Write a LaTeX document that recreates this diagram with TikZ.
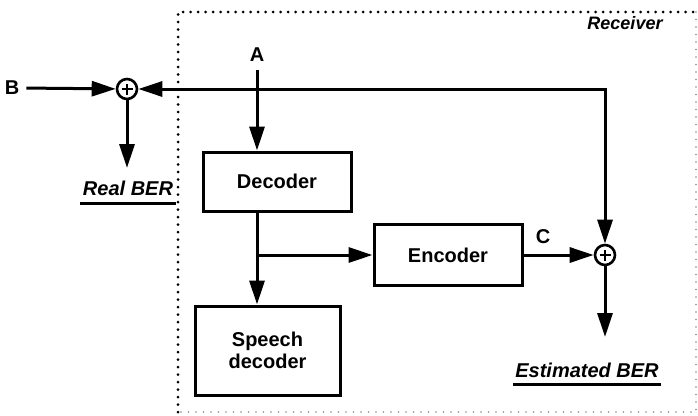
\documentclass[tikz,border=0pt]{standalone}
\usepackage{fontspec}
\setmainfont{Liberation Sans}
\usetikzlibrary{arrows.meta}

\begin{document}
\begin{tikzpicture}[
    x=1pt, y=-1pt,
    >={Triangle[length=24pt, width=15pt]},
    wire/.style={line width=3pt},
    blk/.style={draw, line width=3pt, minimum width=148pt, font=\fontsize{20}{22}\selectfont\bfseries, align=center},
    sum/.style={circle, draw, line width=2.6pt, minimum size=20pt, inner sep=0pt,
        path picture={\draw[line width=2.2pt]
            ([yshift=-5.5pt]path picture bounding box.center) -- ([yshift=5.5pt]path picture bounding box.center)
            ([xshift=-5.5pt]path picture bounding box.center) -- ([xshift=5.5pt]path picture bounding box.center);}},
    lbl/.style={font=\fontsize{20}{22}\selectfont\bfseries, inner sep=0pt},
    res/.style={font=\fontsize{20}{22}\selectfont\bfseries\itshape, inner sep=0pt},
    uline/.style={line width=2.2pt},
    frame/.style={line width=3pt, dash pattern=on 0pt off 7.5pt, line cap=round}
]
\useasboundingbox (0,0) rectangle (698,415);

% --- Receiver frame ---
\draw[frame] (178,412) -- (178,12) -- (696,12);
\draw[frame, black!45, line width=1.8pt] (696,12) -- (696,412) -- (178,412);
\node[res, font=\fontsize{18}{20}\selectfont\bfseries\itshape] (rcv) at (625,23) {Receiver};

% --- Blocks ---
\node[blk, minimum height=59pt] (dec) at (277,181.5) {Decoder};
\node[blk, minimum height=61pt] (enc) at (448,255) {Encoder};
\node[blk, minimum width=145pt, minimum height=89pt] (spdec) at (267.5,350.5) {Speech\\decoder};

% --- Summing points ---
\node[sum] (sum1) at (127,89) {};
\node[sum] (sum2) at (605,255) {};

% --- Inputs and outputs ---
\node[lbl] (inB) at (12,88) {B};
\node[lbl] (inA) at (257,55) {A};
\node[lbl] (labC) at (543,237) {C};
\coordinate (rout) at (127,168);
\coordinate (eout) at (605,337);

\node[res] (rber) at (128,188) {Real BER};
\node[res] (eber) at (587,370) {Estimated BER};
\draw[uline] ([xshift=-3pt,yshift=-8pt]rber.south west) -- ([xshift=3pt,yshift=-8pt]rber.south east);
\draw[uline] ([xshift=-2pt,yshift=-7pt]eber.south west) -- ([xshift=2pt,yshift=-7pt]eber.south east);

% --- Connectors ---
\draw[wire, ->, shorten <=7pt] (inB.east) -- (sum1);
\draw[wire, <->] (sum1) -- (sum1 -| sum2) -- (sum2);
\draw[wire, ->] (sum1) -- (rout);
\draw[wire, ->, shorten <=8pt] (inA.south) -- (inA.south |- dec.north);
\draw[wire, ->] (dec.south -| inA.south) -- (spdec.north -| inA.south);
\draw[wire, ->] (enc.west -| inA.south) -- (enc.west);
\draw[wire, ->] (enc.east) -- (sum2);
\draw[wire, ->] (sum2) -- (eout);

\end{tikzpicture}
\end{document}
